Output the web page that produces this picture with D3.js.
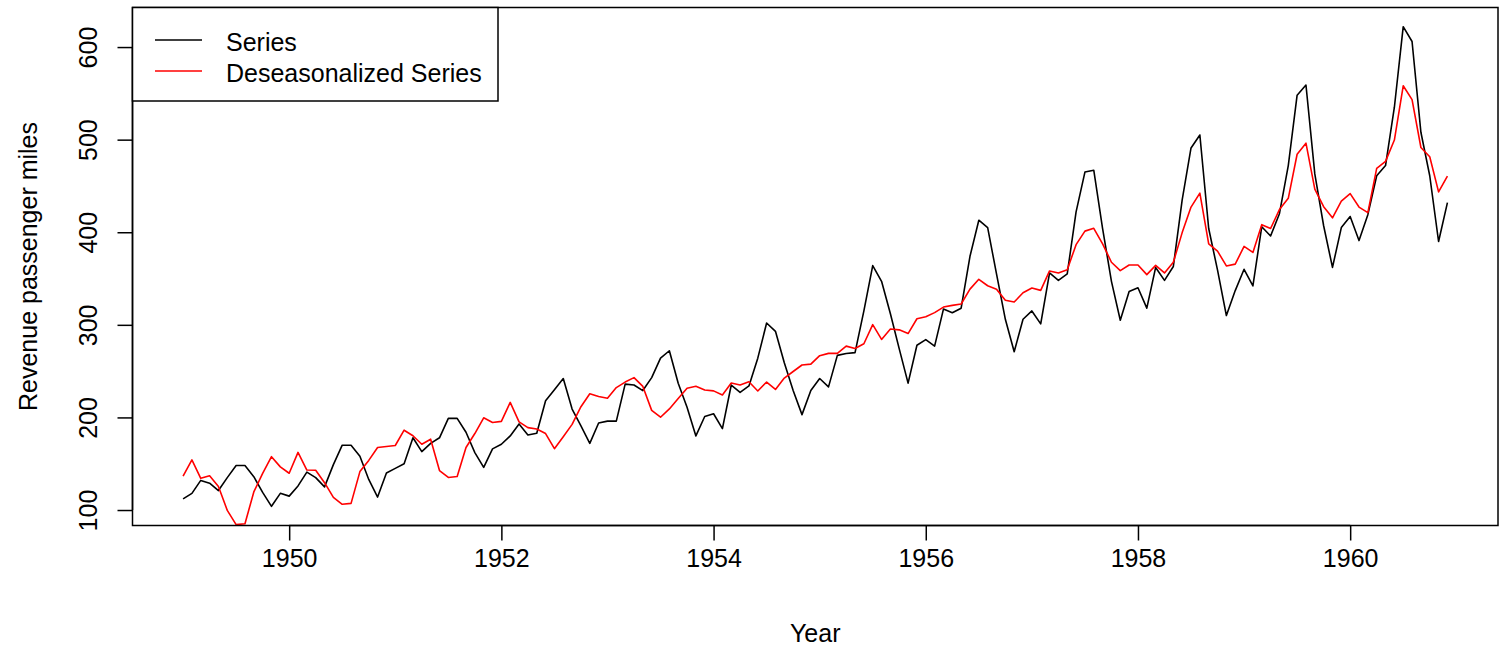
<!DOCTYPE html>
<html>
<head>
<meta charset="utf-8">
<script src="https://cdn.jsdelivr.net/npm/d3@7"></script>
<style>
  html, body { margin: 0; padding: 0; background: #fff; }
  svg { display: block; }
  text { font-family: "Liberation Sans", Arial, sans-serif; fill: #000; }
</style>
</head>
<body>
<svg id="chart" width="1499" height="647"></svg>
<script>
// Monthly series, Jan 1949 .. Dec 1960
const startYear = 1949;
const series = [
  112,118,132,129,121,135,148,148,136,119,104,118,
  115,126,141,135,125,149,170,170,158,133,114,140,
  145,150,178,163,172,178,199,199,184,162,146,166,
  171,180,193,181,183,218,230,242,209,191,172,194,
  196,196,236,235,229,243,264,272,237,211,180,201,
  204,188,235,227,234,264,302,293,259,229,203,229,
  242,233,267,269,270,315,364,347,312,274,237,278,
  284,277,317,313,318,374,413,405,355,306,271,306,
  315,301,356,348,355,422,465,467,404,347,305,336,
  340,318,362,348,363,435,491,505,404,359,310,337,
  360,342,406,396,420,472,548,559,463,407,362,405,
  417,391,419,461,472,535,622,606,508,461,390,432
];
const deseasonalized = [
  136.7,154.2,134.2,137.0,125.5,99.6,84.2,85.2,119.5,139.6,157.6,146.6,
  139.7,162.2,143.2,143.0,129.5,113.6,106.2,107.2,141.5,153.6,167.6,168.6,
  169.7,186.2,180.2,171.0,176.5,142.6,135.2,136.2,167.5,182.6,199.6,194.6,
  195.7,216.2,195.2,189.0,187.5,182.6,166.2,179.2,192.5,211.6,225.6,222.6,
  220.7,232.2,238.2,243.0,233.5,207.6,200.2,209.2,220.5,231.6,233.6,229.6,
  228.7,224.2,237.2,235.0,238.5,228.6,238.2,230.2,242.5,249.6,256.6,257.6,
  266.7,269.2,269.2,277.0,274.5,279.6,300.2,284.2,295.5,294.6,290.6,306.6,
  308.7,313.2,319.2,321.0,322.5,338.6,349.2,342.2,338.5,326.6,324.6,334.6,
  339.7,337.2,358.2,356.0,359.5,386.6,401.2,404.2,387.5,367.6,358.6,364.6,
  364.7,354.2,364.2,356.0,367.5,399.6,427.2,442.2,387.5,379.6,363.6,365.6,
  384.7,378.2,408.2,404.0,424.5,436.6,484.2,496.2,446.5,427.6,415.6,433.6,
  441.7,427.2,421.2,469.0,476.5,499.6,558.2,543.2,491.5,481.6,443.6,460.6
];
const xTicks = [1950, 1952, 1954, 1956, 1958, 1960];
const yTicks = [100, 200, 300, 400, 500, 600];
const legendLabels = ["Series", "Deseasonalized Series"];
const seriesColors = ["#000000", "#ff0000"];
const xTitle = "Year";
const yTitle = "Revenue passenger miles";

const svg = d3.select("#chart");
const L = 132.5, R = 1498, T = 7.5, B = 525.5;
const FS = 25;

const times = series.map((_, i) => startYear + i / 12);
const xMin = d3.min(times), xMax = d3.max(times);
const xPad = (xMax - xMin) * 0.04;
const yMin = d3.min(series), yMax = d3.max(series);
const yPad = (yMax - yMin) * 0.04;

const x = d3.scaleLinear().domain([xMin - xPad, xMax + xPad]).range([L, R]);
const y = d3.scaleLinear().domain([yMin - yPad, yMax + yPad]).range([B, T]);

svg.append("defs").append("clipPath").attr("id", "clip")
  .append("rect").attr("x", L).attr("y", T).attr("width", R - L).attr("height", B - T);

const line = d3.line().x((d, i) => x(times[i])).y(d => y(d));

const g = svg.append("g").attr("clip-path", "url(#clip)");
[series, deseasonalized].forEach((s, k) => {
  g.append("path").datum(s)
    .attr("d", line)
    .attr("fill", "none")
    .attr("stroke", seriesColors[k])
    .attr("stroke-width", 1.6)
    .attr("stroke-linejoin", "round");
});

// Box
svg.append("rect").attr("x", L).attr("y", T).attr("width", R - L).attr("height", B - T)
  .attr("fill", "none").attr("stroke", "#000").attr("stroke-width", 1.5);

// X axis
const xAxis = d3.axisBottom(x).tickValues(xTicks).tickSize(15).tickPadding(9).tickFormat(d3.format("d"));
const gx = svg.append("g").attr("transform", `translate(0,${B})`).call(xAxis);
gx.select(".domain").attr("d", `M${x(xTicks[0])},0H${x(xTicks[xTicks.length-1])}`).attr("stroke-width", 1.5);
gx.selectAll(".tick line").attr("stroke-width", 1.5);
gx.selectAll("text").attr("font-size", FS).attr("font-family", "Liberation Sans, Arial, sans-serif").attr("fill", "#000");

// Y axis (labels rotated, parallel to axis)
const yAxis = d3.axisLeft(y).tickValues(yTicks).tickSize(15).tickFormat(d3.format("d"));
const gy = svg.append("g").attr("transform", `translate(${L},0)`).call(yAxis);
gy.select(".domain").attr("d", `M0,${y(yTicks[0])}V${y(yTicks[yTicks.length-1])}`).attr("stroke-width", 1.5);
gy.selectAll(".tick line").attr("stroke-width", 1.5);
gy.selectAll(".tick text")
  .attr("font-size", FS).attr("font-family", "Liberation Sans, Arial, sans-serif").attr("fill", "#000")
  .attr("x", null).attr("dy", null)
  .attr("text-anchor", "middle")
  .attr("transform", `translate(${97 - L},0) rotate(-90)`);

// Axis titles
svg.append("text").attr("x", (L + R) / 2).attr("y", 642)
  .attr("text-anchor", "middle").attr("font-size", FS).text(xTitle);
svg.append("text").attr("transform", `translate(37,${(T + B) / 2}) rotate(-90)`)
  .attr("text-anchor", "middle").attr("font-size", FS).text(yTitle);

// Legend
const lg = svg.append("g");
lg.append("rect").attr("x", L).attr("y", T).attr("width", 498 - L).attr("height", 101 - T)
  .attr("fill", "#fff").attr("stroke", "#000").attr("stroke-width", 1.5);
const rowY = [40, 71];
legendLabels.forEach((lab, k) => {
  lg.append("line").attr("x1", 155).attr("x2", 202).attr("y1", rowY[k]).attr("y2", rowY[k])
    .attr("stroke", seriesColors[k]).attr("stroke-width", 1.6);
  lg.append("text").attr("x", 226).attr("y", rowY[k] + 11).attr("font-size", FS).text(lab);
});
</script>
</body>
</html>
